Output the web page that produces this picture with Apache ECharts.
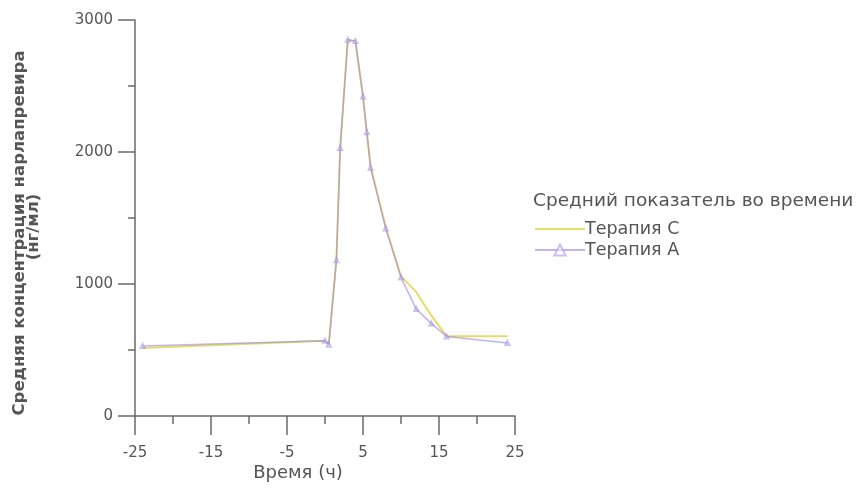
<!DOCTYPE html>
<html><head><meta charset="utf-8">
<script src="https://cdn.jsdelivr.net/npm/echarts@6/dist/echarts.min.js"></script>
<style>html,body{margin:0;padding:0;background:#fff}#c{width:856px;height:488px}</style>
</head><body><div id="c"></div>
<script>
const times = [-24, 0, 0.5, 1.5, 2, 3, 4, 5, 5.5, 6, 8, 10, 12, 14, 16, 24];
const therapyC = [515, 570, 545, 1180, 2030, 2850, 2840, 2420, 2150, 1890, 1430, 1060, 940, 760, 605, 605];
const therapyA = [530, 570, 540, 1180, 2030, 2850, 2840, 2420, 2150, 1880, 1420, 1050, 810, 700, 603, 553];
const xTicks = [-25, -15, -5, 5, 15, 25];
const yTicks = [0, 1000, 2000, 3000];
const legendTitle = 'Средний показатель во времени';
const seriesNames = ['Терапия C', 'Терапия A'];
const xName = 'Время (ч)';
const yName1 = 'Средняя концентрация нарлапревира';
const yName2 = '(нг/мл)';

const pair = (xs, ys) => xs.map((x, i) => [x, ys[i]]);
const font = 'DejaVu Sans, Verdana, sans-serif';
const txt = '#555';
const axisCol = '#6a6a6a';
const chart = echarts.init(document.getElementById('c'));
chart.setOption({
  animation: false,
  textStyle: {fontFamily: font},
  grid: {left: 135, right: 341, top: 20, bottom: 72, containLabel: false},
  graphic: [
    {type: 'text', left: 533, top: 192, style: {text: legendTitle, fontSize: 18.5, fill: txt, fontFamily: font}},
    {type: 'text', x: 298, y: 473, style: {text: xName, fontSize: 18, fill: txt, fontFamily: font, align: 'center', verticalAlign: 'middle'}},
    {type: 'text', x: 20, y: 233, rotation: Math.PI / 2, style: {text: yName1, fontSize: 16.5, fontWeight: 'bold', fill: txt, fontFamily: font, align: 'center', verticalAlign: 'middle'}},
    {type: 'text', x: 34, y: 227, rotation: Math.PI / 2, style: {text: yName2, fontSize: 16.5, fontWeight: 'bold', fill: txt, fontFamily: font, align: 'center', verticalAlign: 'middle'}}
  ],
  legend: {
    orient: 'vertical', left: 529, top: 215, itemWidth: 50, itemHeight: 14, itemGap: 3,
    textStyle: {fontSize: 17.5, color: txt, padding: [0, 0, 0, -5]},
    data: [
      {name: seriesNames[0], icon: 'path://M0,6H50V8H0Z', itemStyle: {color: '#e6dc6a'}},
      {name: seriesNames[1]}
    ]
  },
  xAxis: {
    type: 'value', min: xTicks[0], max: xTicks[xTicks.length - 1], interval: 10,
    axisLine: {onZero: false, lineStyle: {color: axisCol, width: 1.5}},
    axisTick: {length: 19, lineStyle: {color: axisCol, width: 1.5}},
    minorTick: {show: true, splitNumber: 2, length: 8, lineStyle: {color: axisCol, width: 1.5}},
    axisLabel: {fontSize: 15, color: txt, margin: 30},
    splitLine: {show: false}
  },
  yAxis: {
    type: 'value', min: yTicks[0], max: yTicks[yTicks.length - 1], interval: 1000,
    axisLine: {onZero: false, lineStyle: {color: axisCol, width: 1.5}},
    axisTick: {length: 17, lineStyle: {color: axisCol, width: 1.5}},
    minorTick: {show: true, splitNumber: 2, length: 7, lineStyle: {color: axisCol, width: 1.5}},
    axisLabel: {fontSize: 15, color: txt, margin: 22, formatter: v => String(v)},
    splitLine: {show: false}
  },
  series: [
    {name: seriesNames[0], type: 'line', data: pair(times, therapyC), showSymbol: false, symbol: 'none',
     lineStyle: {color: '#e6dc6a', width: 2}, itemStyle: {color: '#e6dc6a'}, z: 2},
    {name: seriesNames[1], type: 'line', data: pair(times, therapyA), symbol: 'emptyTriangle', symbolSize: 4,
     lineStyle: {color: '#9a80e8', width: 1.5, opacity: 0.6}, itemStyle: {color: '#9a80e8', opacity: 0.5}, z: 3}
  ]
});
</script></body></html>
